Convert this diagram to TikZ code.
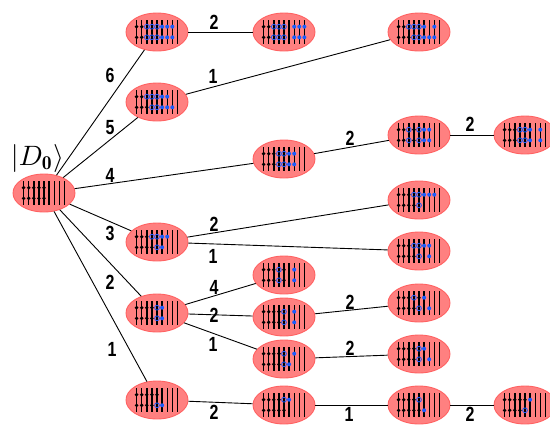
\documentclass[tikz,border=0pt]{standalone}
\usepackage{fontspec}
\usetikzlibrary{shapes.geometric}
\newfontfamily\lblfont{Liberation Sans}
\definecolor{stfill}{HTML}{FF8080}
\definecolor{stedge}{HTML}{FF6262}
\definecolor{beadblue}{HTML}{1A5CFF}
\tikzset{
  statenode/.style={ellipse,draw=stedge,line width=0.9pt,fill=stfill,minimum width=62pt,minimum height=38pt,inner sep=0pt},
  wire/.style={line width=1.4pt,black},
  conn/.style={line width=0.9pt,black},
  beadk/.style={fill=black,radius=1.9pt},
  beado/.style={draw=beadblue,line width=0.8pt,radius=2.4pt},
  beadb/.style={fill=beadblue,radius=2pt},
  beadn/.style={},
  lbl/.style={inner sep=0pt,font=\lblfont\bfseries\fontsize{20.5}{20.5}\selectfont,xscale=0.78},
}
\newcommand{\qrow}[2]{%
  \foreach \t [count=\i from 0] in {#2} {
    \pgfmathsetmacro{\xq}{-20.4+5.1*\i}
    \path[bead\t] (\xq,#1) circle[];
  }}
\newcommand{\qstate}[5]{%
  \node[statenode] (#1) at (#2,#3) {};
  \begin{scope}[shift={(#2,#3)}]
    \foreach \i in {0,...,8} {
      \pgfmathsetmacro{\xq}{-20.4+5.1*\i}
      \draw[wire] (\xq,-12) -- (\xq,12);
    }
    \qrow{-5.3}{#4}
    \qrow{5.3}{#5}
  \end{scope}}
\begin{document}
\begin{tikzpicture}[x=1pt,y=-1pt]
\useasboundingbox (0,0) rectangle (550,424);
% root
\qstate{r}{44}{193}{k,k,k,k,k,n,n,n,n}{k,k,k,k,k,n,n,n,n}
% level 1
\qstate{a1}{157}{32}{k,k,o,o,o,b,b,b,n}{k,k,o,o,o,b,b,b,n}
\qstate{a2}{157}{102}{k,k,o,o,o,b,b,n,n}{k,k,k,o,o,b,b,b,n}
\qstate{a3}{157}{242}{k,k,k,o,o,b,b,n,n}{k,k,k,k,o,b,n,n,n}
\qstate{a4}{157}{313}{k,k,k,k,o,b,n,n,n}{k,k,k,k,o,b,n,n,n}
\qstate{a5}{157}{400}{k,k,k,k,k,n,n,n,n}{k,k,k,k,o,b,n,n,n}
% level 2
\qstate{b1}{284}{32}{k,k,o,o,o,n,b,b,b}{k,k,o,o,o,n,b,b,b}
\qstate{b2}{284}{159}{k,k,k,o,o,b,b,n,n}{k,k,k,o,o,b,b,n,n}
\qstate{b3}{284}{275}{k,k,k,o,k,n,b,n,n}{k,k,k,o,k,n,b,n,n}
\qstate{b4}{284}{317}{k,k,k,k,o,n,b,n,n}{k,k,k,k,o,n,b,n,n}
\qstate{b5}{284}{359}{k,k,k,k,o,n,b,n,n}{k,k,k,k,o,b,n,n,n}
\qstate{b6}{284}{405}{k,k,k,k,o,b,n,n,n}{k,k,k,k,k,n,n,n,n}
% level 3
\qstate{c1}{419}{32}{k,k,o,o,o,b,n,b,n}{k,k,k,o,o,b,b,b,n}
\qstate{c2}{419}{135}{k,k,o,k,o,b,b,n,n}{k,k,o,k,o,b,b,n,n}
\qstate{c3}{419}{200}{k,k,k,o,o,b,b,b,n}{k,k,k,k,o,n,n,n,n}
\qstate{c4}{419}{251}{k,k,k,o,o,b,b,n,n}{k,k,k,k,o,n,b,n,n}
\qstate{c5}{419}{303}{k,k,k,o,k,b,n,n,n}{k,k,k,k,o,n,b,n,n}
\qstate{c6}{419}{354}{k,k,k,k,o,b,n,n,n}{k,k,k,k,o,n,b,n,n}
\qstate{c7}{419}{405}{k,k,k,k,o,n,n,n,n}{k,k,k,k,k,b,n,n,n}
% level 4
\qstate{d1}{525}{135}{k,k,k,o,o,b,n,b,n}{k,k,k,o,o,b,n,b,n}
\qstate{d2}{525}{405}{k,k,k,k,k,b,n,n,n}{k,k,k,k,o,n,n,n,n}
% connectors
\draw[conn] (r)--(a1); \draw[conn] (r)--(a2); \draw[conn] (r)--(b2);
\draw[conn] (r)--(a3); \draw[conn] (r)--(a4); \draw[conn] (r)--(a5);
\draw[conn] (a1)--(b1); \draw[conn] (a2)--(c1);
\draw[conn] (b2)--(c2); \draw[conn] (c2)--(d1);
\draw[conn] (a3)--(c3); \draw[conn] (a3)--(c4);
\draw[conn] (a4)--(b3); \draw[conn] (a4)--(b4); \draw[conn] (a4)--(b5);
\draw[conn] (b4)--(c5); \draw[conn] (b5)--(c6);
\draw[conn] (a5)--(b6); \draw[conn] (b6)--(c7); \draw[conn] (c7)--(d2);
% labels
\node[lbl] (l1) at (110,75) {6};
\node[lbl] (l2) at (110,128) {5};
\node[lbl] (l3) at (110,175) {4};
\node[lbl] (l4) at (110,233) {3};
\node[lbl] (l5) at (110,282) {2};
\node[lbl] (l6) at (112,349) {1};
\node[lbl] (l7) at (214,22) {2};
\node[lbl] (l8) at (213,76) {1};
\node[lbl] (l9) at (350,138) {2};
\node[lbl] (l10) at (470,124) {2};
\node[lbl] (l11) at (214,224) {2};
\node[lbl] (l12) at (213,256) {1};
\node[lbl] (l13) at (214,287) {4};
\node[lbl] (l14) at (214,315) {2};
\node[lbl] (l15) at (213,344) {1};
\node[lbl] (l16) at (350,302) {2};
\node[lbl] (l17) at (350,348) {2};
\node[lbl] (l18) at (214,412) {2};
\node[lbl] (l19) at (349,414) {1};
\node[lbl] (l20) at (470,414) {2};
\node[inner sep=0pt] (title) at (37.5,158) {\scalebox{2.8}{$|D_{\mathbf{0}}\rangle$}};
\end{tikzpicture}
\end{document}
